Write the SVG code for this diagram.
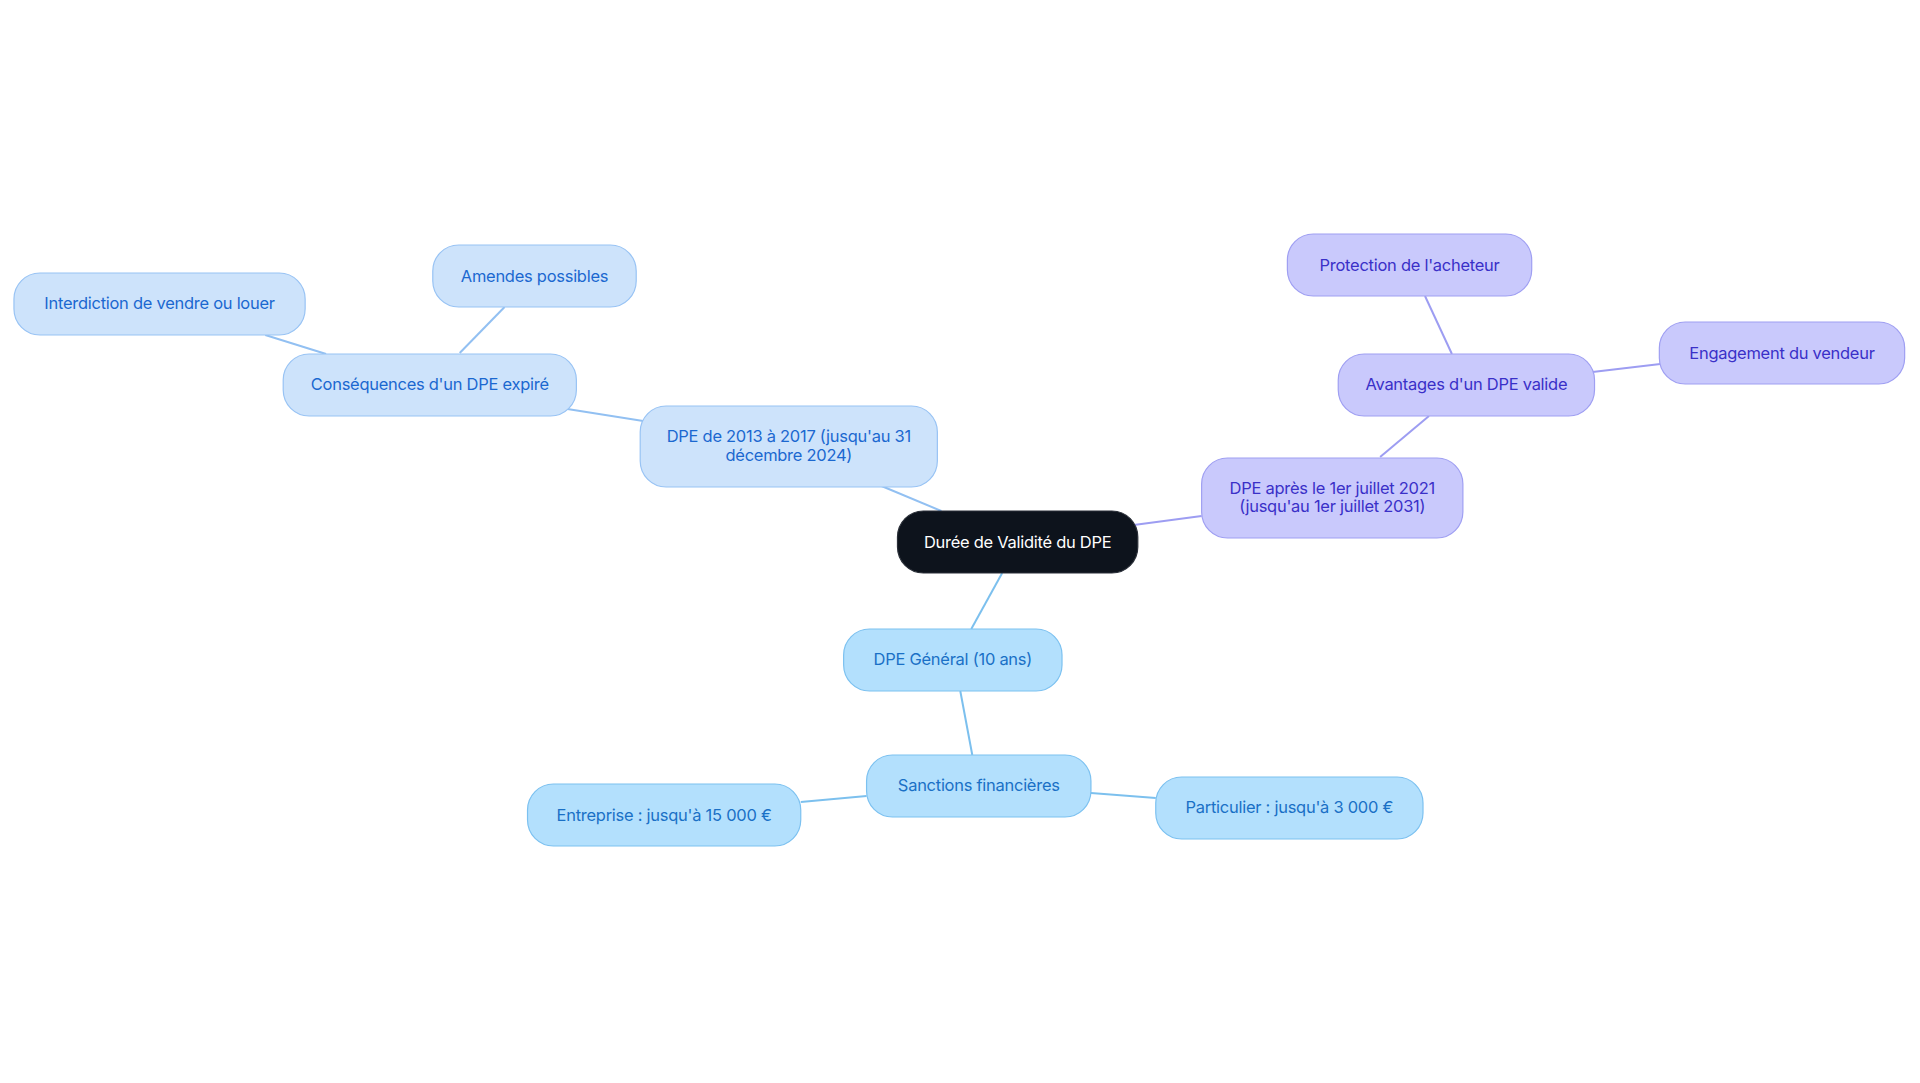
<svg xmlns="http://www.w3.org/2000/svg" width="1920" height="1083" viewBox="0 0 1920 1083">
<style>
text{font-family:Inter,"Noto Sans","Liberation Sans",sans-serif;font-size:16.5px;text-anchor:middle;dominant-baseline:central;letter-spacing:-0.25px}
.c rect{fill:#0d131c;stroke:#2a2f38;stroke-width:1.2}
.c text{fill:#ffffff}
.a rect{fill:#cde3fb;stroke:#98c3f4;stroke-width:1.2}
.a text{fill:#1b68d0}
.b rect{fill:#b3e0fd;stroke:#7cc1f0;stroke-width:1.2}
.b text{fill:#1a70c6}
.p rect{fill:#c9c9fc;stroke:#9f9ff2;stroke-width:1.2}
.p text{fill:#3a30c8}
#edges line{stroke-width:2;fill:none}
.ea{stroke:#92c0f2}
.eb{stroke:#7cc0ee}
.ep{stroke:#9d9df2}
</style>
<rect width="1920" height="1083" fill="#ffffff"/>
<g transform="scale(0.9972,1)">
<g id="edges">
<line class="ea" x1="944" y1="511" x2="884" y2="486"/>
<line class="ea" x1="645" y1="421" x2="569" y2="409"/>
<line class="ea" x1="461" y1="353" x2="506" y2="307"/>
<line class="ea" x1="327" y1="354" x2="266" y2="335"/>
<line class="ep" x1="1137" y1="525" x2="1205" y2="516"/>
<line class="ep" x1="1384" y1="457" x2="1433" y2="416"/>
<line class="ep" x1="1456" y1="354" x2="1429" y2="296"/>
<line class="ep" x1="1597" y1="372" x2="1665" y2="364"/>
<line class="eb" x1="1005" y1="573" x2="974" y2="629"/>
<line class="eb" x1="963" y1="691" x2="975" y2="755"/>
<line class="eb" x1="869" y1="796" x2="803" y2="802"/>
<line class="eb" x1="1094" y1="793" x2="1159" y2="798"/>
</g>
<g id="n-center" class="c"><rect x="900" y="511" width="241" height="62" rx="26"/><text x="1020.5" y="541.5">Durée de Validité du DPE</text></g>
<g id="n-dpe2013" class="a"><rect x="642" y="406" width="298" height="81" rx="26"/><text x="791" y="436">DPE de 2013 à 2017 (jusqu'au 31</text><text x="791" y="455">décembre 2024)</text></g>
<g id="n-consequences" class="a"><rect x="284" y="354" width="294" height="62" rx="26"/><text x="431" y="384.5">Conséquences d'un DPE expiré</text></g>
<g id="n-amendes" class="a"><rect x="434" y="245" width="204" height="62" rx="26"/><text x="536" y="275.5">Amendes possibles</text></g>
<g id="n-interdiction" class="a"><rect x="14" y="273" width="292" height="62" rx="26"/><text x="160" y="303.5">Interdiction de vendre ou louer</text></g>
<g id="n-dpe2021" class="p"><rect x="1205" y="458" width="262" height="80" rx="26"/><text x="1336" y="488">DPE après le 1er juillet 2021</text><text x="1336" y="506">(jusqu'au 1er juillet 2031)</text></g>
<g id="n-avantages" class="p"><rect x="1342" y="354" width="257" height="62" rx="26"/><text x="1470.5" y="384.5">Avantages d'un DPE valide</text></g>
<g id="n-protection" class="p"><rect x="1291" y="234" width="245" height="62" rx="26"/><text x="1413.5" y="264.5">Protection de l'acheteur</text></g>
<g id="n-engagement" class="p"><rect x="1664" y="322" width="246" height="62" rx="26"/><text x="1787" y="352.5">Engagement du vendeur</text></g>
<g id="n-general" class="b"><rect x="846" y="629" width="219" height="62" rx="26"/><text x="955.5" y="659.5">DPE Général (10 ans)</text></g>
<g id="n-sanctions" class="b"><rect x="869" y="755" width="225" height="62" rx="26"/><text x="981.5" y="785.5">Sanctions financières</text></g>
<g id="n-entreprise" class="b"><rect x="529" y="784" width="274" height="62" rx="26"/><text x="666" y="814.5">Entreprise : jusqu'à 15 000 €</text></g>
<g id="n-particulier" class="b"><rect x="1159" y="777" width="268" height="62" rx="26"/><text x="1293" y="807.5">Particulier : jusqu'à 3 000 €</text></g>
</g>
</svg>
